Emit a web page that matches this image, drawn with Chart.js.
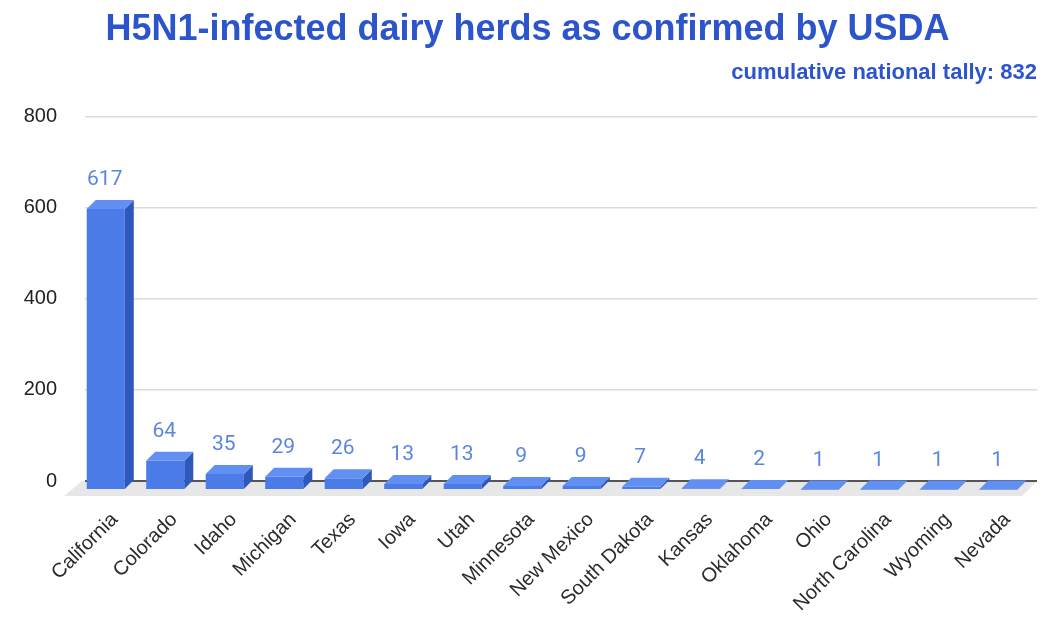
<!DOCTYPE html>
<html>
<head>
<meta charset="utf-8">
<script src="https://cdn.jsdelivr.net/npm/chart.js@4/dist/chart.umd.min.js"></script>
<style>
  html, body { margin: 0; padding: 0; background: #ffffff; }
  #wrap { width: 1053px; height: 617px; position: relative; }
</style>
</head>
<body>
<div id="wrap"><canvas id="c"></canvas></div>
<script>
const titleText = 'H5N1-infected dairy herds as confirmed by USDA';
const subtitleText = 'cumulative national tally: 832';
const categories = ['California', 'Colorado', 'Idaho', 'Michigan', 'Texas', 'Iowa', 'Utah', 'Minnesota',
  'New Mexico', 'South Dakota', 'Kansas', 'Oklahoma', 'Ohio', 'North Carolina', 'Wyoming', 'Nevada'];
const herds = [617, 64, 35, 29, 26, 13, 13, 9, 9, 7, 4, 2, 1, 1, 1, 1];
const yTicks = [0, 200, 400, 600, 800];

const FONT = "'Liberation Sans', Arial, sans-serif";
const DX = 9, DY = 9;           // 3D depth offset
const FRONT = '#4a7be6', TOP = '#6290f2', SIDE = '#2f58bd';

const floorPlugin = {
  id: 'floor3d',
  beforeDraw(chart) {
    const { ctx, chartArea: a } = chart;
    const y0 = chart.scales.y.getPixelForValue(0);
    ctx.save();
    ctx.fillStyle = '#e7e7e7';
    ctx.beginPath();
    ctx.moveTo(a.left - 3, y0);
    ctx.lineTo(a.right, y0);
    ctx.lineTo(a.right - DX - 6, y0 + DY + 6);
    ctx.lineTo(a.left - DX - 12, y0 + DY + 6);
    ctx.closePath();
    ctx.fill();
    ctx.restore();
  }
};

const bars3dPlugin = {
  id: 'bars3d',
  beforeDatasetsDraw(chart) {
    chart.ctx.save();
    chart.ctx.translate(-DX, DY);
  },
  afterDatasetsDraw(chart) {
    const ctx = chart.ctx;
    ctx.restore();
    const meta = chart.getDatasetMeta(0);
    ctx.save();
    meta.data.forEach((el, i) => {
      const { x, y, base, width } = el.getProps(['x', 'y', 'base', 'width'], true);
      const xl = x - width / 2, xr = x + width / 2;
      // side face
      ctx.fillStyle = SIDE;
      ctx.beginPath();
      ctx.moveTo(xr - DX, y + DY);
      ctx.lineTo(xr, y);
      ctx.lineTo(xr, base);
      ctx.lineTo(xr - DX, base + DY);
      ctx.closePath();
      ctx.fill();
      // top face
      ctx.fillStyle = TOP;
      ctx.beginPath();
      ctx.moveTo(xl - DX, y + DY);
      ctx.lineTo(xr - DX, y + DY);
      ctx.lineTo(xr, y);
      ctx.lineTo(xl, y);
      ctx.closePath();
      ctx.fill();
      // value label
      ctx.fillStyle = '#5a86e0';
      ctx.font = "21px Roboto, 'Liberation Sans', Arial, sans-serif";
      ctx.textAlign = 'center';
      ctx.textBaseline = 'alphabetic';
      ctx.fillText(String(herds[i]), x - DX - 1, y - 15);
    });
    ctx.restore();
  }
};

new Chart(document.getElementById('c'), {
  type: 'bar',
  data: {
    labels: categories,
    datasets: [{
      label: 'Herds',
      data: herds,
      backgroundColor: FRONT,
      borderWidth: 0,
      barPercentage: 0.64,
      categoryPercentage: 1.0,
      clip: false
    }]
  },
  options: {
    responsive: true,
    maintainAspectRatio: false,
    animation: false,
    layout: { padding: { left: 18, right: 16, top: 0, bottom: 0 } },
    plugins: {
      legend: { display: false },
      tooltip: { enabled: false },
      title: {
        display: true,
        text: titleText,
        color: '#2c55cc',
        font: { family: FONT, size: 36, weight: 'bold' },
        padding: { top: 8, bottom: 2 }
      },
      subtitle: {
        display: true,
        text: subtitleText,
        align: 'end',
        color: '#2c55cc',
        font: { family: FONT, size: 22, weight: 'bold' },
        padding: { top: 7, bottom: 30 }
      }
    },
    scales: {
      x: {
        grid: { display: false },
        border: { display: false },
        ticks: {
          autoSkip: false,
          maxRotation: 45,
          minRotation: 45,
          padding: 19,
          color: '#2a2a2a',
          font: { family: FONT, size: 20 }
        },
        afterFit(scale) { scale.height = 136; }
      },
      y: {
        min: 0,
        max: 800,
        afterBuildTicks(scale) { scale.ticks = yTicks.map(v => ({ value: v })); },
        grid: {
          drawTicks: false,
          color: (c) => c.tick && c.tick.value === 0 ? '#555555' : '#dcdcdc',
          lineWidth: (c) => c.tick && c.tick.value === 0 ? 2 : 1.5
        },
        border: { display: false },
        ticks: {
          padding: 28,
          color: '#222222',
          font: { family: FONT, size: 20 }
        },
        afterFit(scale) { scale.width = 67; }
      }
    }
  },
  plugins: [floorPlugin, bars3dPlugin]
});
</script>
</body>
</html>
